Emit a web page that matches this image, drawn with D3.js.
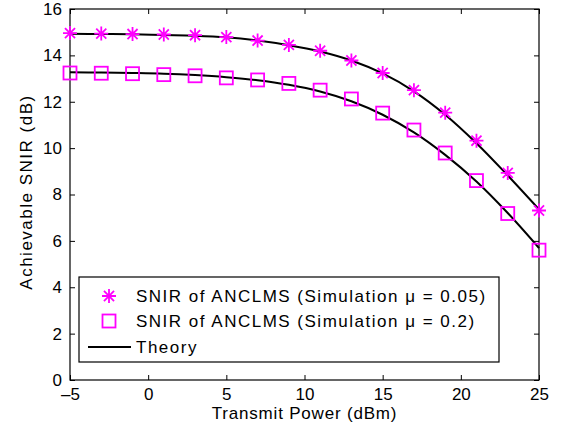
<!DOCTYPE html>
<html>
<head>
<meta charset="utf-8">
<script src="https://cdn.jsdelivr.net/npm/d3@7"></script>
<style>
  body { margin: 0; background: #fff; }
  svg { display: block; font-family: "Liberation Sans", Arial, sans-serif; }
</style>
</head>
<body>
<svg width="561" height="433"></svg>
<script>
// transmit power (dBm) where the curves were sampled
var power = [-5, -3, -1, 1, 3, 5, 7, 9, 11, 13, 15, 17, 19, 21, 23, 25];

// simulation, mu = 0.05 (asterisks)
var sim_005 = [14.96, 14.94, 14.92, 14.90, 14.87, 14.79, 14.64, 14.45, 14.20, 13.78, 13.24, 12.50, 11.53, 10.32, 8.93, 7.31];
// simulation, mu = 0.2 (squares)
var sim_02 = [13.24, 13.23, 13.21, 13.17, 13.12, 13.03, 12.94, 12.79, 12.50, 12.12, 11.51, 10.78, 9.79, 8.60, 7.18, 5.60];
// theory curves
var theory_005 = [14.93, 14.92, 14.91, 14.88, 14.85, 14.78, 14.64, 14.44, 14.17, 13.78, 13.22, 12.45, 11.44, 10.21, 8.82, 7.36];
var theory_02 = [13.27, 13.26, 13.24, 13.21, 13.15, 13.06, 12.93, 12.73, 12.44, 12.02, 11.44, 10.68, 9.71, 8.56, 7.20, 5.69];

var x_ticks = [-5, 0, 5, 10, 15, 20, 25];
var y_ticks = [0, 2, 4, 6, 8, 10, 12, 14, 16];

var legend_labels = ["SNIR of ANCLMS (Simulation \u03bc = 0.05)", "SNIR of ANCLMS (Simulation \u03bc = 0.2)", "Theory"];

var svg = d3.select("svg");
var m_left = 70, m_right = 539, m_top = 9, m_bottom = 380;
var magenta = "#ff00ff";

var x = d3.scaleLinear().domain([-5, 25]).range([m_left, m_right]);
var y = d3.scaleLinear().domain([0, 16]).range([m_bottom, m_top]);

function fmt(d){ return d < 0 ? "\u2013" + Math.abs(d) : String(d); }

// axes, ticks pointing inward on all four sides
var g_bottom = svg.append("g").attr("transform", "translate(0," + m_bottom + ")")
  .call(d3.axisBottom(x).tickValues(x_ticks).tickSizeInner(-5).tickSizeOuter(0).tickPadding(8).tickFormat(fmt));
var g_top = svg.append("g").attr("transform", "translate(0," + m_top + ")")
  .call(d3.axisTop(x).tickValues(x_ticks).tickSizeInner(-5).tickSizeOuter(0).tickFormat(""));
var g_left = svg.append("g").attr("transform", "translate(" + m_left + ",0)")
  .call(d3.axisLeft(y).tickValues(y_ticks).tickSizeInner(-5).tickSizeOuter(0).tickPadding(8).tickFormat(d3.format("d")));
var g_right = svg.append("g").attr("transform", "translate(" + m_right + ",0)")
  .call(d3.axisRight(y).tickValues(y_ticks).tickSizeInner(-5).tickSizeOuter(0).tickFormat(""));

[g_bottom, g_top, g_left, g_right].forEach(function(g){
  g.select(".domain").remove();
  g.selectAll("line").attr("stroke", "#000").attr("stroke-width", 1);
  g.selectAll("text").attr("fill", "#000").style("font-size", "17px").style("font-family", "inherit");
});

svg.append("rect")
  .attr("x", m_left).attr("y", m_top)
  .attr("width", m_right - m_left).attr("height", m_bottom - m_top)
  .attr("fill", "none").attr("stroke", "#000").attr("stroke-width", 1.2);

// theory lines
var line = d3.line()
  .x(function(d){ return x(d[0]); })
  .y(function(d){ return y(d[1]); })
  .curve(d3.curveCatmullRom);

[theory_005, theory_02].forEach(function(vals){
  svg.append("path")
    .datum(power.map(function(p, i){ return [p, vals[i]]; }))
    .attr("d", line)
    .attr("fill", "none").attr("stroke", "#000").attr("stroke-width", 2);
});

// markers
function draw_star(g, cx, cy, r){
  var a = r * 0.72;
  g.append("path")
    .attr("d", "M" + (cx - r) + "," + cy + "H" + (cx + r) +
               "M" + cx + "," + (cy - r) + "V" + (cy + r) +
               "M" + (cx - a) + "," + (cy - a) + "L" + (cx + a) + "," + (cy + a) +
               "M" + (cx - a) + "," + (cy + a) + "L" + (cx + a) + "," + (cy - a))
    .attr("stroke", magenta).attr("stroke-width", 1.8).attr("fill", "none");
}
function draw_square(g, cx, cy, s){
  g.append("rect")
    .attr("x", cx - s / 2).attr("y", cy - s / 2).attr("width", s).attr("height", s)
    .attr("fill", "none").attr("stroke", magenta).attr("stroke-width", 1.8);
}

var marks = svg.append("g");
power.forEach(function(p, i){
  draw_star(marks, x(p), y(sim_005[i]), 7);
  draw_square(marks, x(p), y(sim_02[i]), 13);
});

// legend
var leg = svg.append("g");
leg.append("rect")
  .attr("x", 79).attr("y", 277).attr("width", 420).attr("height", 85)
  .attr("fill", "#fff").attr("stroke", "#000").attr("stroke-width", 1.2);
var rows = [296, 321, 347];
draw_star(leg, 109, rows[0], 7);
draw_square(leg, 109, rows[1], 13);
leg.append("line").attr("x1", 88).attr("x2", 131).attr("y1", rows[2]).attr("y2", rows[2])
  .attr("stroke", "#000").attr("stroke-width", 2);
legend_labels.forEach(function(t, i){
  leg.append("text").attr("x", 136).attr("y", rows[i]).attr("dy", "0.36em")
    .style("font-size", "17px").style("letter-spacing", "1.5px").text(t);
});

// axis titles
svg.append("text").attr("x", (m_left + m_right) / 2).attr("y", 419)
  .attr("text-anchor", "middle").style("font-size", "17px").style("letter-spacing", "0.8px").text("Transmit Power (dBm)");
svg.append("text").attr("transform", "translate(32,192) rotate(-90)")
  .attr("text-anchor", "middle").style("font-size", "17px").style("letter-spacing", "1.5px").text("Achievable SNIR (dB)");
</script>
</body>
</html>
